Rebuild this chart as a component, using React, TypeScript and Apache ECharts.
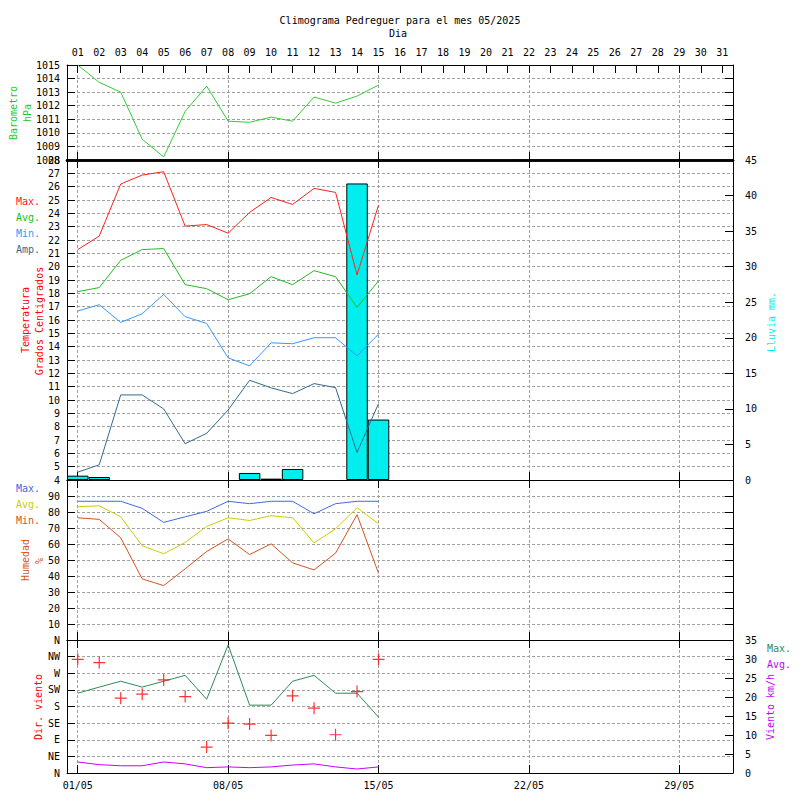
import React, { useEffect, useRef } from "react";
import * as echarts from "echarts";

const days = [1, 2, 3, 4, 5, 6, 7, 8, 9, 10, 11, 12, 13, 14, 15];
const pressure = [1015.0, 1013.72, 1013.0, 1009.53, 1008.23, 1011.58, 1013.45, 1010.86, 1010.78, 1011.16, 1010.86, 1012.64, 1012.19, 1012.71, 1013.52];
const tempMax = [21.28, 22.29, 26.2, 26.87, 27.12, 23.04, 23.16, 22.51, 24.07, 25.19, 24.67, 25.87, 25.57, 19.38, 24.62];
const tempAvg = [18.13, 18.43, 20.48, 21.28, 21.36, 18.65, 18.35, 17.52, 17.97, 19.25, 18.65, 19.7, 19.25, 16.95, 18.93];
const tempMin = [16.67, 17.15, 15.82, 16.47, 17.92, 16.25, 15.74, 13.16, 12.56, 14.29, 14.22, 14.67, 14.67, 13.31, 14.94];
const tempAmp = [4.59, 5.14, 10.38, 10.38, 9.33, 6.72, 7.5, 9.25, 11.48, 10.91, 10.48, 11.23, 10.93, 6.07, 9.73];
const rainDays = [1, 2, 9, 10, 11, 14, 15];
const rain = [0.61, 0.42, 0.99, 0.19, 1.55, 41.7, 8.5];
const humMax = [86.7, 86.7, 86.7, 82.3, 73.5, 77.0, 80.4, 86.7, 85.2, 86.7, 86.7, 78.9, 85.2, 86.7, 86.7];
const humAvg = [83.3, 83.9, 77.0, 58.9, 53.9, 61.0, 71.0, 76.4, 74.7, 77.7, 76.4, 60.7, 69.5, 82.7, 72.7];
const humMin = [76.4, 75.4, 63.9, 38.2, 34.0, 44.5, 55.3, 63.2, 53.4, 60.1, 48.2, 43.8, 54.3, 78.3, 41.7];
const windDir = [307.8, 298.8, 202.5, 213.3, 252, 207, 70.2, 135, 132.3, 101.7, 208.8, 175.5, 103.5, 220.5, 307.8];
const windMax = [21.0, 22.6, 24.15, 22.6, 24.15, 25.7, 19.4, 33.7, 17.85, 17.85, 24.15, 25.7, 21.0, 21.0, 14.7];
const windAvg = [2.9, 2.2, 1.9, 1.9, 2.9, 2.4, 1.4, 1.6, 1.4, 1.6, 2.1, 2.4, 1.6, 1.05, 1.6];
const dirLabels = ["N", "NE", "E", "SE", "S", "SW", "W", "NW", "N"];
const allDays = Array.from({ length: 31 }, (_, i) => i + 1);
const majorDays = [1, 8, 15, 22, 29];
const bottomLabels = ["01/05", "08/05", "15/05", "22/05", "29/05"];

const FONT = "DejaVu Sans Mono";
const GRID_COLOR = "#a0a0a0";

const pairs = (xs: number[], ys: number[]) => xs.map((x, i) => [x, ys[i]]);

export default function App() {
  const ref = useRef<HTMLDivElement>(null);
  useEffect(() => {
    if (!ref.current) return;
    const chart = echarts.init(ref.current, null, { renderer: "svg" });
    const L = 67, W = 666;
    const grids = [
      { left: L, width: W, top: 65, height: 95, outerBoundsMode: "none" },
      { left: L, width: W, top: 160, height: 320, outerBoundsMode: "none" },
      { left: L, width: W, top: 480, height: 160, outerBoundsMode: "none" },
      { left: L, width: W, top: 640, height: 133, outerBoundsMode: "none" },
    ];
    const lbl = { fontFamily: FONT, fontSize: 10, color: "#000" };
    const split = { show: true, lineStyle: { color: GRID_COLOR, type: [3, 2], width: 1 } };
    const mkX = (gridIndex: number, position: string, opts: any = {}) => ({
      type: "value",
      gridIndex,
      position,
      min: 0.5,
      max: 31.5,
      axisLine: { show: true, onZero: false, lineStyle: { color: "#000", width: opts.lineWidth || 1 } },
      axisTick: { show: true, inside: true, length: 8, customValues: opts.ticks || majorDays, lineStyle: { color: "#000" } },
      axisLabel: opts.labels
        ? { show: true, ...lbl, margin: opts.margin || 8, customValues: opts.labelValues, formatter: opts.labels }
        : { show: false },
      splitLine: opts.split ? split : { show: false },
    });
    const plain = (v: number) => String(v);
    const mkY = (gridIndex: number, position: string, min: number, max: number, interval: number, opts: any = {}) => ({
      type: "value",
      gridIndex,
      position,
      min,
      max,
      interval,
      axisLine: { show: true, onZero: false, lineStyle: { color: "#000", width: 1 } },
      axisTick: { show: true, inside: true, length: 8, lineStyle: { color: "#000" } },
      axisLabel: opts.labels === false ? { show: false } : { show: true, ...lbl, margin: opts.margin || 7, formatter: opts.formatter || plain },
      splitLine: opts.split ? split : { show: false },
    });

    const option: any = {
      animation: false,
      backgroundColor: "#fff",
      grid: grids,
      xAxis: [
        mkX(0, "top", { ticks: allDays, labels: (v: number) => String(Math.round(v)).padStart(2, "0"), labelValues: allDays, margin: 8 }),
        mkX(0, "bottom", { lineWidth: 2.5, split: true }),
        mkX(1, "top", { lineWidth: 2.5 }),
        mkX(1, "bottom", { split: true }),
        mkX(2, "top", {}),
        mkX(2, "bottom", { split: true }),
        mkX(3, "top", {}),
        mkX(3, "bottom", {
          split: true,
          labelValues: majorDays,
          margin: 7,
          labels: (v: number) => bottomLabels[majorDays.indexOf(Math.round(v))] || "",
        }),
      ],
      yAxis: [
        mkY(0, "left", 1008, 1015, 1, { split: true }),
        mkY(0, "right", 1008, 1015, 1, { labels: false }),
        mkY(1, "left", 4, 28, 1, { split: true }),
        mkY(1, "right", 0, 45, 5, { margin: 12 }),
        mkY(2, "left", 0, 100, 10, { split: true, formatter: (v: number) => (v === 0 || v === 100 ? "" : String(v)) }),
        mkY(2, "right", 0, 100, 10, { labels: false }),
        mkY(3, "left", 0, 360, 45, { split: true, formatter: (v: number) => dirLabels[Math.round(v / 45)] }),
        mkY(3, "right", 0, 35, 5, { margin: 12 }),
      ],
      series: [
        {
          type: "line", xAxisIndex: 1, yAxisIndex: 0, data: pairs(days, pressure),
          symbol: "none", lineStyle: { color: "#33cc33", width: 1 }, z: 3,
        },
        {
          type: "bar", xAxisIndex: 3, yAxisIndex: 3, data: pairs(rainDays, rain), barWidth: 21.5,
          itemStyle: { color: "#00eeee", borderColor: "#000", borderWidth: 1 }, z: 1,
        },
        { type: "line", xAxisIndex: 3, yAxisIndex: 2, data: pairs(days, tempMax), symbol: "none", lineStyle: { color: "#ff2020", width: 1 }, z: 3 },
        { type: "line", xAxisIndex: 3, yAxisIndex: 2, data: pairs(days, tempAvg), symbol: "none", lineStyle: { color: "#22bb22", width: 1 }, z: 3 },
        { type: "line", xAxisIndex: 3, yAxisIndex: 2, data: pairs(days, tempMin), symbol: "none", lineStyle: { color: "#3399ff", width: 1 }, z: 3 },
        { type: "line", xAxisIndex: 3, yAxisIndex: 2, data: pairs(days, tempAmp), symbol: "none", lineStyle: { color: "#336a8c", width: 1 }, z: 3 },
        { type: "line", xAxisIndex: 5, yAxisIndex: 4, data: pairs(days, humMax), symbol: "none", lineStyle: { color: "#4169e1", width: 1 }, z: 3 },
        { type: "line", xAxisIndex: 5, yAxisIndex: 4, data: pairs(days, humAvg), symbol: "none", lineStyle: { color: "#cccc00", width: 1 }, z: 3 },
        { type: "line", xAxisIndex: 5, yAxisIndex: 4, data: pairs(days, humMin), symbol: "none", lineStyle: { color: "#d2541e", width: 1 }, z: 3 },
        {
          type: "scatter", xAxisIndex: 7, yAxisIndex: 6, data: pairs(days, windDir),
          symbol: "path://M5.4,0h1.2v5.4h5.4v1.2h-5.4v5.4h-1.2v-5.4h-5.4v-1.2h5.4z", symbolSize: 12,
          itemStyle: { color: "#ff0000" }, z: 4,
        },
        { type: "line", xAxisIndex: 7, yAxisIndex: 7, data: pairs(days, windMax), symbol: "none", lineStyle: { color: "#2e8b57", width: 1 }, z: 3 },
        { type: "line", xAxisIndex: 7, yAxisIndex: 7, data: pairs(days, windAvg), symbol: "none", lineStyle: { color: "#c800ff", width: 1 }, z: 3 },
      ],
      graphic: [
        { type: "text", x: 400, y: 20, style: { text: "Climograma Pedreguer para el mes 05/2025", font: `10px '${FONT}'`, fill: "#000", textAlign: "center", textVerticalAlign: "middle" } },
        { type: "text", x: 398, y: 33, style: { text: "Dia", font: `10px '${FONT}'`, fill: "#000", textAlign: "center", textVerticalAlign: "middle" } },
        { type: "text", x: 13, y: 113, rotation: Math.PI / 2, style: { text: "Barometro", font: `10px '${FONT}'`, fill: "#22cc22", textAlign: "center", textVerticalAlign: "middle" } },
        { type: "text", x: 27, y: 113, rotation: Math.PI / 2, style: { text: "hPa", font: `10px '${FONT}'`, fill: "#22cc22", textAlign: "center", textVerticalAlign: "middle" } },
        { type: "text", x: 25, y: 320, rotation: Math.PI / 2, style: { text: "Temperatura", font: `10px '${FONT}'`, fill: "#ff0000", textAlign: "center", textVerticalAlign: "middle" } },
        { type: "text", x: 39, y: 321, rotation: Math.PI / 2, style: { text: "Grados Centigrados", font: `10px '${FONT}'`, fill: "#ff0000", textAlign: "center", textVerticalAlign: "middle" } },
        { type: "text", x: 16, y: 201, style: { text: "Max.", font: `10px '${FONT}'`, fill: "#ff2020", textVerticalAlign: "middle" } },
        { type: "text", x: 16, y: 217, style: { text: "Avg.", font: `10px '${FONT}'`, fill: "#22bb22", textVerticalAlign: "middle" } },
        { type: "text", x: 16, y: 233, style: { text: "Min.", font: `10px '${FONT}'`, fill: "#3399ff", textVerticalAlign: "middle" } },
        { type: "text", x: 16, y: 249, style: { text: "Amp.", font: `10px '${FONT}'`, fill: "#336a8c", textVerticalAlign: "middle" } },
        { type: "text", x: 16, y: 488, style: { text: "Max.", font: `10px '${FONT}'`, fill: "#4169e1", textVerticalAlign: "middle" } },
        { type: "text", x: 16, y: 504, style: { text: "Avg.", font: `10px '${FONT}'`, fill: "#cccc00", textVerticalAlign: "middle" } },
        { type: "text", x: 16, y: 520, style: { text: "Min.", font: `10px '${FONT}'`, fill: "#d2541e", textVerticalAlign: "middle" } },
        { type: "text", x: 25, y: 560, rotation: Math.PI / 2, style: { text: "Humedad", font: `10px '${FONT}'`, fill: "#d2541e", textAlign: "center", textVerticalAlign: "middle" } },
        { type: "text", x: 39, y: 561, rotation: Math.PI / 2, style: { text: "%", font: `10px '${FONT}'`, fill: "#d2541e", textAlign: "center", textVerticalAlign: "middle" } },
        { type: "text", x: 38, y: 707, rotation: Math.PI / 2, style: { text: "Dir. viento", font: `10px '${FONT}'`, fill: "#ff0000", textAlign: "center", textVerticalAlign: "middle" } },
        { type: "text", x: 771, y: 322, rotation: Math.PI / 2, style: { text: "Lluvia mm.", font: `10px '${FONT}'`, fill: "#00eeee", textAlign: "center", textVerticalAlign: "middle" } },
        { type: "text", x: 770, y: 707, rotation: Math.PI / 2, style: { text: "Viento km/h", font: `10px '${FONT}'`, fill: "#c800ff", textAlign: "center", textVerticalAlign: "middle" } },
        { type: "text", x: 767, y: 648, style: { text: "Max.", font: `10px '${FONT}'`, fill: "#2e8b57", textVerticalAlign: "middle" } },
        { type: "text", x: 767, y: 664, style: { text: "Avg.", font: `10px '${FONT}'`, fill: "#c800ff", textVerticalAlign: "middle" } },
      ],
    };
    chart.setOption(option);
    return () => chart.dispose();
  }, []);
  return <div ref={ref} style={{ position: "absolute", left: 0, top: 0, width: 800, height: 800 }} />;
}
